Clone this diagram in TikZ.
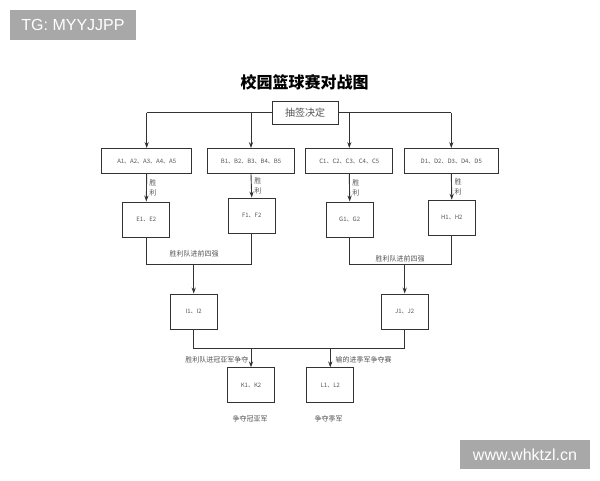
\documentclass[tikz,border=0pt]{standalone}
\usepackage{fontspec}
\setmainfont{Noto Sans CJK SC}
\newfontfamily\markfont{Liberation Sans}
\usetikzlibrary{arrows.meta}

\definecolor{linegray}{HTML}{333333}
\definecolor{textgray}{HTML}{555555}
\definecolor{markgray}{HTML}{A8A8A8}

\begin{document}
\begin{tikzpicture}[x=1pt, y=-1pt,
    line/.style={draw=linegray, line width=0.9pt},
    arrow/.style={line, -{Stealth[length=6pt,width=4.2pt]}},
    box/.style={line, fill=white, inner sep=0pt, text=textgray, font=\fontsize{6}{7}\selectfont},
    group box/.style={box, minimum height=25},
    pair box/.style={box, minimum width=47, minimum height=35},
    note/.style={text=textgray, inner sep=0pt, font=\fontsize{7}{10}\selectfont},
    stamp box/.style={fill=markgray, text=white, inner sep=0pt, font=\markfont\fontsize{16}{16}\selectfont}]

    \fill[white] (0,0) rectangle (600,480);
    \useasboundingbox (0,0) rectangle (600,480);

    % stamps in the corners
    \node[stamp box, minimum width=126, minimum height=30] (stamp top) at (73,25) {TG: MYYJJPP};
    \node[stamp box, minimum width=130, minimum height=29] (stamp bottom) at (525,454.5) {www.whktzl.cn};

    \node[font=\fontsize{16}{16}\selectfont\bfseries] (title) at (304.5,82) {校园篮球赛对战图};

    \coordinate (top line) at (0,112.5);
    \coordinate (semi line) at (0,264.5);
    \coordinate (final line) at (0,348);

    % groups
    \foreach \g/\x/\w in {A/146.7/90, B/251/87, C/349.3/87, D/451.3/94}
    \node[group box, minimum width=\w] (group \g) at (\x,161) {\g1、\g2、\g3、\g4、\g5};

    \foreach \s/\x/\y in {E/146.3/219.5, F/251.7/215.5, G/349.7/219.5, H/451.8/217.7}
    \node[pair box] (semi \s) at (\x,\y) {\s1、\s2};

    \node[pair box] (four I) at (193.7,311.5) {I1、I2};
    \node[pair box] (four J) at (404.7,311.5) {J1、J2};
    \node[pair box] (final K) at (251,385.3) {K1、K2};
    \node[pair box] (final L) at (330.3,385.3) {L1、L2};

    % draw
    \draw[line] (group A.north |- top line) -- (group D.north |- top line);
    \node[box, minimum width=66, minimum height=23, font=\fontsize{10}{10}\selectfont] (draw lots) at (305,112.5) {抽签决定};
    \foreach \g in {A,B,C,D}
    \draw[arrow] (group \g.north |- top line) -- (group \g.north);

    \foreach \g/\s in {A/E, B/F, C/G, D/H}
    \draw[arrow] (group \g.south) -- node[note, right=2.5pt, align=center] {胜\\利} (semi \s.north);

    % to the last four
    \draw[line] (semi E.south) -- (semi E.south |- semi line) -- (semi F.south |- semi line) -- (semi F.south);
    \draw[line] (semi G.south) -- (semi G.south |- semi line) -- (semi H.south |- semi line) -- (semi H.south);
    \draw[arrow] (four I.north |- semi line) -- (four I.north);
    \draw[arrow] (four J.north |- semi line) -- (four J.north);
    \node[note] (four left) at (194,253.5) {胜利队进前四强};
    \node[note] (four right) at (400,258.5) {胜利队进前四强};

    % finals
    \draw[line] (four I.south) -- (four I.south |- final line) -- (four J.south |- final line) -- (four J.south);
    \draw[arrow] (final K.north |- final line) -- (final K.north);
    \draw[arrow] (final L.north |- final line) -- (final L.north);
    \node[note, anchor=east] (final left) at (248.5,359.5) {胜利队进冠亚军争夺};
    \node[note, anchor=west] (final right) at (335.5,359.5) {输的进季军争夺赛};
    \node[note] (K note) at (250,419) {争夺冠亚军};
    \node[note] (L note) at (328.5,419) {争夺季军};
\end{tikzpicture}
\end{document}
